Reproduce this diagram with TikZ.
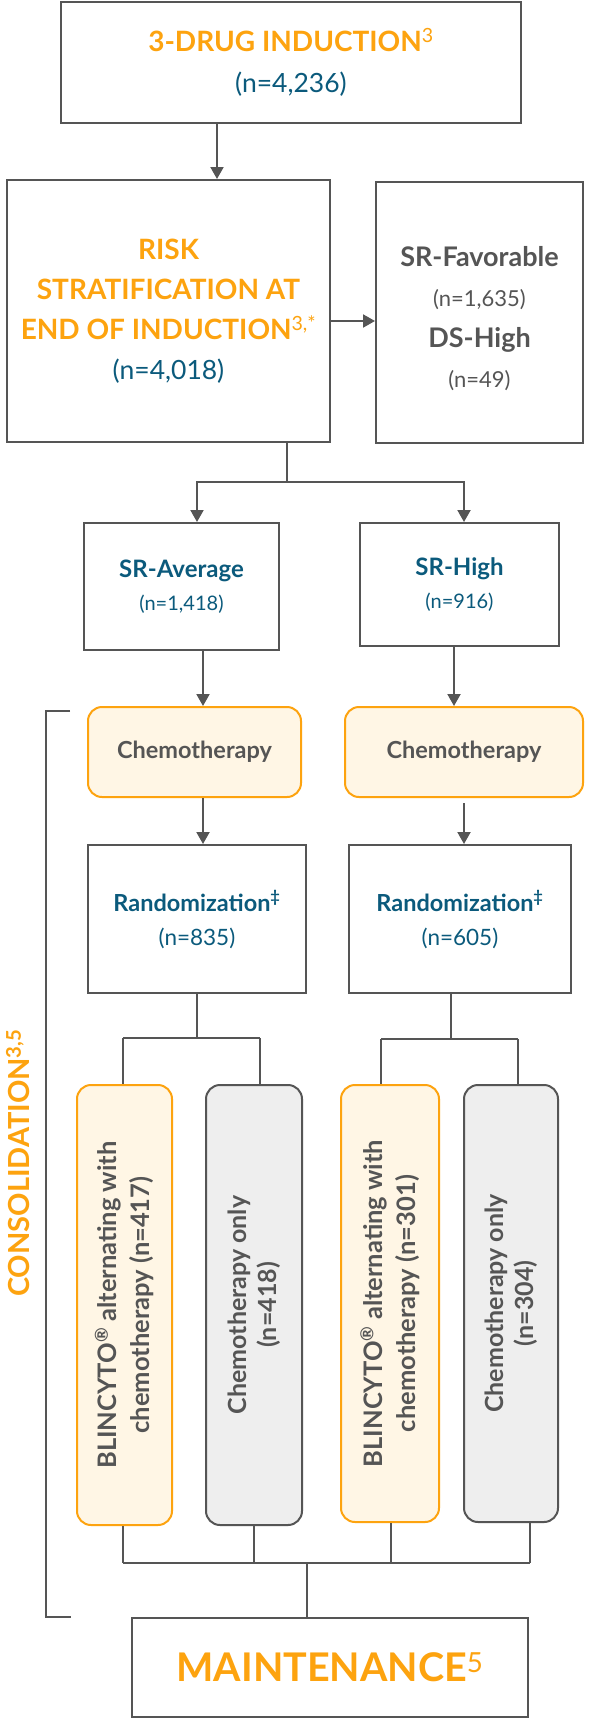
\documentclass[tikz,border=0pt]{standalone}
\usepackage{fontspec}
\setmainfont{Lato}
\usetikzlibrary{arrows.meta}
\definecolor{org}{HTML}{FDA30F}
\definecolor{tealb}{HTML}{0B5A7C}
\definecolor{lgray}{HTML}{555555}
\definecolor{cream}{HTML}{FFF6E5}
\definecolor{boxgray}{HTML}{EEEEEE}
\tikzset{
  box/.style={draw=lgray, line width=2pt, fill=white, align=center, inner sep=0pt},
  obox/.style={box, draw=org, fill=cream, rounded corners=14pt},
  gbox/.style={box, fill=boxgray, rounded corners=14pt},
  conn/.style={draw=lgray, line width=2pt},
  arr/.style={conn, -{Triangle[width=13pt,length=12pt]}},
  vtext/.style={rotate=90, align=center, text=lgray, inner sep=0pt},
  plaintext/.style={align=center, inner sep=0pt},
}
\begin{document}
\begin{tikzpicture}[x=1pt,y=-1pt]
\fill[white] (0,0) rectangle (592,1724);
\useasboundingbox (0,0) rectangle (592,1724);

% boxes
\node[box, minimum width=460pt, minimum height=121pt, font=\fontsize{28}{41}\selectfont] (top) at (291,62.5)
  {{\bfseries\color{org}3-DRUG INDUCTION\textsuperscript{\mdseries 3}}\\{\fontsize{26.5}{41}\selectfont\color{tealb}(n=4,236)}};
\node[box, minimum width=323pt, minimum height=262pt, font=\fontsize{28}{40}\selectfont] (risk) at (168.5,311)
  {{\bfseries\color{org}RISK}\\{\bfseries\color{org}STRATIFICATION AT}\\{\bfseries\color{org}END OF INDUCTION\textsuperscript{\mdseries 3,*}}\\{\fontsize{26.5}{40}\selectfont\color{tealb}(n=4,018)}};
\node[box, minimum width=207pt, minimum height=261pt] (side) at (479.5,312.5) {};
\node[plaintext, font=\fontsize{27}{40.5}\selectfont, text=lgray] (sideT) at ([yshift=-6pt]side.center)
  {{\bfseries SR-Favorable}\\{\fontsize{22}{40}\selectfont(n=1,635)}\\{\bfseries DS-High}\\{\fontsize{22}{40}\selectfont(n=49)}};

\node[box, minimum width=195pt, minimum height=127pt, font=\fontsize{24}{33}\selectfont, text=tealb] (avg) at (181.5,586.5)
  {{\bfseries SR-Average}\\{\fontsize{20}{33}\selectfont(n=1,418)}};
\node[box, minimum width=199pt, minimum height=123pt, font=\fontsize{24}{33}\selectfont, text=tealb] (high) at (459.5,584.5)
  {{\bfseries SR-High}\\{\fontsize{20}{33}\selectfont(n=916)}};

\node[obox, minimum width=213pt, minimum height=90pt, font=\fontsize{23.5}{28}\selectfont\bfseries, text=lgray] (chemoA) at (194.5,752) {Chemotherapy};
\node[obox, minimum width=238pt, minimum height=90pt, font=\fontsize{23.5}{28}\selectfont\bfseries, text=lgray] (chemoB) at (464,752) {Chemotherapy};

\node[box, minimum width=218pt, minimum height=148pt, font=\fontsize{23.5}{34}\selectfont, text=tealb] (randA) at (197,919)
  {{\bfseries Randomization\textsuperscript{‡}}\\{\fontsize{22.5}{34}\selectfont(n=835)}};
\node[box, minimum width=222pt, minimum height=148pt, font=\fontsize{23.5}{34}\selectfont, text=tealb] (randB) at (460,919)
  {{\bfseries Randomization\textsuperscript{‡}}\\{\fontsize{22.5}{34}\selectfont(n=605)}};

\node[obox, minimum width=95pt, minimum height=440pt] (blA) at (124.5,1305) {};
\node[gbox, minimum width=96pt, minimum height=440pt] (coA) at (254,1305) {};
\node[obox, minimum width=98pt, minimum height=437pt] (blB) at (390,1303.5) {};
\node[gbox, minimum width=94pt, minimum height=437pt] (coB) at (511,1303.5) {};

\node[vtext, font=\fontsize{25.5}{33}\selectfont\bfseries] (blAt) at (blA) {BLINCYTO\textsuperscript{®} alternating with\\chemotherapy (n=417)};
\node[vtext, font=\fontsize{25}{30}\selectfont\bfseries] (coAt) at (coA) {Chemotherapy only\\(n=418)};
\node[vtext, font=\fontsize{25.5}{33}\selectfont\bfseries] (blBt) at (blB) {BLINCYTO\textsuperscript{®} alternating with\\chemotherapy (n=301)};
\node[vtext, font=\fontsize{25}{30}\selectfont\bfseries] (coBt) at (coB) {Chemotherapy only\\(n=304)};

\node[box, minimum width=396pt, minimum height=99pt, font=\fontsize{39.5}{40}\selectfont, text=org] (maint) at (330,1667.5)
  {\bfseries MAINTENANCE\textsuperscript{\mdseries 5}};

\node[rotate=90, font=\fontsize{29}{30}\selectfont\bfseries, text=org, inner sep=0pt] (cons) at (18,1163) {CONSOLIDATION\textsuperscript{3,5}};

% helper coordinates
\coordinate (x1) at (217,0);
\coordinate (y1) at (0,321);
\coordinate (x2) at (287,0);
\coordinate (j1) at (287,482);
\coordinate (jA) at (197,482);
\coordinate (jB) at (464,482);
\coordinate (xA) at (203,0);
\coordinate (xB) at (454,0);
\coordinate (xC) at (464,0);
\coordinate (jr1) at (197,1038);
\coordinate (jr1a) at (123,1038);
\coordinate (jr1b) at (260,1038);
\coordinate (jr2) at (451,1039);
\coordinate (jr2a) at (381,1039);
\coordinate (jr2b) at (518,1039);
\coordinate (b1) at (123,1563);
\coordinate (b2) at (254,1563);
\coordinate (b3) at (391,1563);
\coordinate (b4) at (530,1563);
\coordinate (bm) at (307,1563);

% connectors
\draw[arr] (top.south -| x1) -- (risk.north -| x1);
\draw[arr] (risk.east |- y1) -- (side.west |- y1);
\draw[conn] (risk.south -| x2) -- (j1);
\draw[arr] (j1) -- (jA) -- (avg.north -| jA);
\draw[arr] (j1) -- (jB) -- (high.north -| jB);
\draw[arr] (avg.south -| xA) -- (chemoA.north -| xA);
\draw[arr] (high.south -| xB) -- (chemoB.north -| xB);
\draw[arr] (chemoA.south -| xA) -- (randA.north -| xA);
\draw[arr] ([yshift=-5pt]chemoB.south -| xC) -- (randB.north -| xC);
\draw[conn] (randA.south -| jr1) -- (jr1);
\draw[conn] (jr1a) -- (jr1b);
\draw[conn] (jr1a) -- (blA.north -| jr1a);
\draw[conn] (jr1b) -- (coA.north -| jr1b);
\draw[conn] (randB.south -| jr2) -- (jr2);
\draw[conn] (jr2a) -- (jr2b);
\draw[conn] (jr2a) -- (blB.north -| jr2a);
\draw[conn] (jr2b) -- (coB.north -| jr2b);
\draw[conn] (blA.south -| b1) -- (b1);
\draw[conn] (coA.south -| b2) -- (b2);
\draw[conn] (blB.south -| b3) -- (b3);
\draw[conn] (coB.south -| b4) -- (b4);
\draw[conn] (b1) -- (b4);
\draw[conn] (bm) -- (maint.north -| bm);

% consolidation bracket
\draw[conn] (70,711) -- (46,711) -- (46,1617) -- (71,1617);
\end{tikzpicture}
\end{document}
